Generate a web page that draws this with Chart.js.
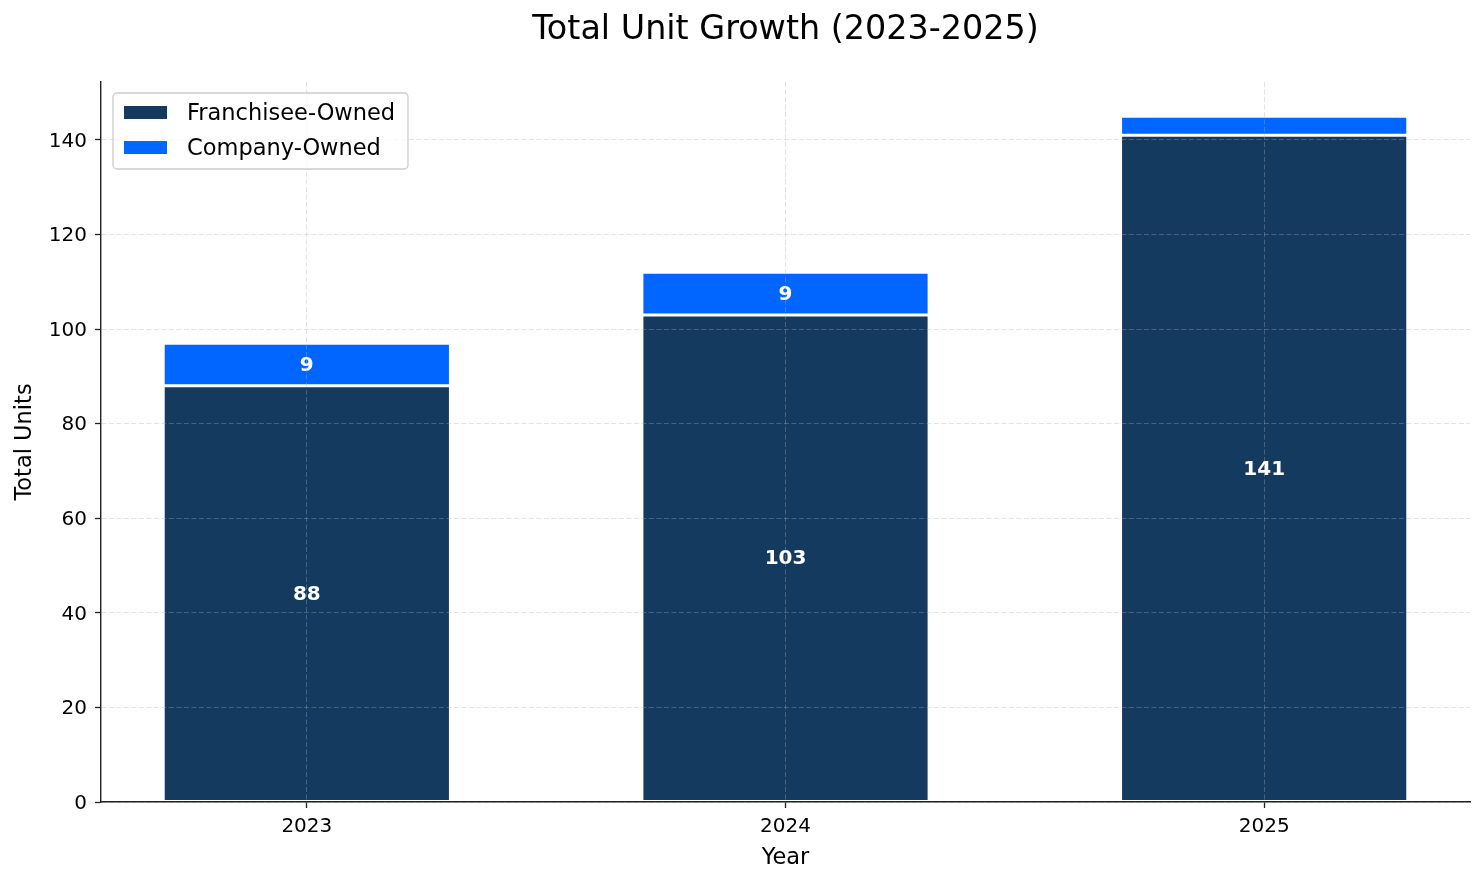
<!DOCTYPE html>
<html>
<head>
<meta charset="utf-8">
<title>Total Unit Growth (2023-2025)</title>
<script src="https://cdn.jsdelivr.net/npm/chart.js@4.4.1/dist/chart.umd.min.js"></script>
<style>
  html, body { margin: 0; padding: 0; background: #fff; }
  canvas { display: block; }
</style>
</head>
<body>
<canvas id="unitChart" width="1484" height="884"></canvas>
<script>
// values
const years = ["2023", "2024", "2025"];
const franchiseeOwned = [88, 103, 141];
const companyOwned = [9, 9, 4];
const seriesNames = ["Franchisee-Owned", "Company-Owned"];
const yTicks = [0, 20, 40, 60, 80, 100, 120, 140];
const chartTitle = "Total Unit Growth (2023-2025)";

const NAVY = "#153a5f";
const BLUE = "#0066ff";
const FONT = "'DejaVu Sans', sans-serif";
const GRID = "rgba(176, 176, 176, 0.35)";
const AXIS = "#222";

// title centred over the plot area, not the whole canvas
const plotTitle = {
  id: "plotTitle",
  afterDraw(chart) {
    const ctx = chart.ctx;
    const area = chart.chartArea;
    ctx.save();
    ctx.font = "33.4px " + FONT;
    ctx.fillStyle = "#000";
    ctx.textAlign = "center";
    ctx.textBaseline = "middle";
    ctx.fillText(chartTitle, (area.left + area.right) / 2, 30);
    ctx.restore();
  },
};

// white numbers in the middle of each segment (small ones skipped)
const barLabels = {
  id: "barLabels",
  afterDatasetsDraw(chart) {
    const ctx = chart.ctx;
    ctx.save();
    ctx.font = "bold 20px " + FONT;
    ctx.fillStyle = "#fff";
    ctx.textAlign = "center";
    ctx.textBaseline = "middle";
    chart.data.datasets.forEach((ds, di) => {
      chart.getDatasetMeta(di).data.forEach((bar, i) => {
        const v = ds.data[i].y;
        if (v < 5) return;
        ctx.fillText(String(v), bar.x, (bar.y + bar.base) / 2 + 1);
      });
    });
    ctx.restore();
  },
};

// legend box inside the plot, top left
const boxLegend = {
  id: "boxLegend",
  afterDraw(chart) {
    const ctx = chart.ctx;
    const x = chart.chartArea.left + 12;
    const y = chart.chartArea.top + 11;
    ctx.save();
    ctx.beginPath();
    ctx.roundRect(x, y, 295, 76, 4);
    ctx.fillStyle = "rgba(255, 255, 255, 0.8)";
    ctx.fill();
    ctx.lineWidth = 1.3;
    ctx.strokeStyle = "#cccccc";
    ctx.stroke();
    ctx.font = "22.5px " + FONT;
    ctx.textBaseline = "middle";
    chart.data.datasets.forEach((ds, i) => {
      const cy = y + 19.5 + i * 35;
      ctx.fillStyle = ds.backgroundColor;
      ctx.fillRect(x + 11, cy - 6.5, 43, 13);
      ctx.fillStyle = "#000";
      ctx.fillText(ds.label, x + 74, cy + 2);
    });
    ctx.restore();
  },
};

const tickFont = { family: FONT, size: 20 };
const labelFont = { family: FONT, size: 22.5 };

new Chart(document.getElementById("unitChart"), {
  type: "bar",
  data: {
    datasets: [
      {
        label: seriesNames[0],
        data: franchiseeOwned.map((v, i) => ({ x: i, y: v })),
        backgroundColor: NAVY,
      },
      {
        label: seriesNames[1],
        data: companyOwned.map((v, i) => ({ x: i, y: v })),
        backgroundColor: BLUE,
      },
    ].map((ds) => ({
      ...ds,
      borderColor: "#fff",
      borderWidth: 1.5,
      borderSkipped: false,
      barPercentage: 0.6,
      categoryPercentage: 1.0,
    })),
  },
  options: {
    responsive: false,
    animation: false,
    layout: { padding: { left: 0, right: 14, top: 82, bottom: 0 } },
    scales: {
      x: {
        type: "linear",
        stacked: true,
        offset: false,
        min: -0.43,
        max: 2.43,
        afterBuildTicks: (s) => { s.ticks = years.map((_, i) => ({ value: i })); },
        afterFit: (s) => { s.height = 82; },
        ticks: { callback: (v) => years[v], font: tickFont, color: "#000", padding: 7 },
        grid: { offset: false, color: GRID, lineWidth: 1, z: 1, tickLength: 6, tickColor: AXIS, tickWidth: 1.3 },
        border: { color: AXIS, width: 1.4, dash: [5, 2.5], z: 2 },
        title: { display: true, text: "Year", font: labelFont, color: "#000", padding: { top: 0, bottom: 12.5 } },
      },
      y: {
        stacked: true,
        min: 0,
        max: 152.25,
        afterBuildTicks: (s) => { s.ticks = yTicks.map((v) => ({ value: v })); },
        afterFit: (s) => { s.width = 101; },
        ticks: { font: tickFont, color: "#000", padding: 8, labelOffset: 1.5 },
        grid: { color: GRID, lineWidth: 1, z: 1, tickLength: 6, tickColor: AXIS, tickWidth: 1.3 },
        border: { color: AXIS, width: 1.4, dash: [5, 2.5], z: 2 },
        title: { display: true, text: "Total Units", font: labelFont, color: "#000", padding: { top: 11.5, bottom: 0 } },
      },
    },
    plugins: {
      legend: { display: false },
      tooltip: { enabled: false },
      title: { display: false },
    },
  },
  plugins: [barLabels, boxLegend, plotTitle],
});
</script>
</body>
</html>
